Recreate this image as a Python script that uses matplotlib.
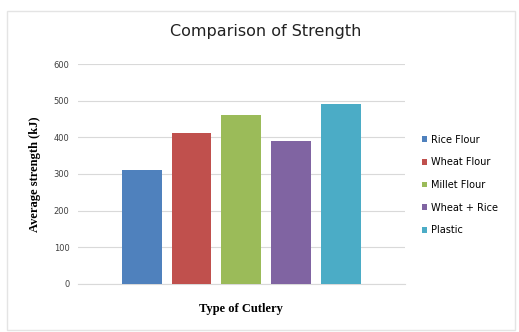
import matplotlib.pyplot as plt
from matplotlib.patches import Rectangle

# data
series = ['Rice Flour', 'Wheat Flour', 'Millet Flour', 'Wheat + Rice', 'Plastic']
strength = [310, 412, 460, 389, 490]
colors = ['#4F81BD', '#C0504D', '#9BBB59', '#8064A2', '#4BACC6']
yticks = [0, 100, 200, 300, 400, 500, 600]

fig = plt.figure(figsize=(5.19, 3.32), dpi=100)
ax = fig.add_axes([0.150, 0.145, 0.630, 0.662])

# faint chart border like the Excel chart area
fig.patches.append(Rectangle((0.014, 0.006), 0.978, 0.962, transform=fig.transFigure,
                             fill=False, edgecolor='#E4E4E4', linewidth=1.0))

for i, (name, val, c) in enumerate(zip(series, strength, colors)):
    ax.bar(i, val, width=0.8, color=c, label=name, zorder=3)

ax.set_xlim(2 - 3.285, 2 + 3.285)
ax.set_ylim(0, 600)
ax.set_yticks(yticks)
ax.set_yticklabels([str(t) for t in yticks], fontsize=6, color='#404040')
ax.set_xticks([])
ax.tick_params(axis='y', length=0, pad=6)
ax.grid(axis='y', color='#D9D9D9', linewidth=0.8, zorder=0)
for s in ['top', 'right', 'left']:
    ax.spines[s].set_visible(False)
ax.spines['bottom'].set_color('#D9D9D9')

ax.set_ylabel('Average strength (kJ)', fontsize=9, fontweight='bold',
              family='Liberation Serif', labelpad=9)
ax.set_xlabel('Type of Cutlery', fontsize=9, fontweight='bold',
              family='Liberation Serif', labelpad=14)
fig.text(0.512, 0.905, 'Comparison of Strength', ha='center', va='center',
         fontsize=11.5, family='DejaVu Sans', color='#222222')

leg = ax.legend(loc='center left', bbox_to_anchor=(1.025, 0.45), frameon=False,
                fontsize=7, handlelength=0.55, handleheight=0.55,
                handletextpad=0.4, labelspacing=1.3)

fig.savefig('out.png', dpi=100)
